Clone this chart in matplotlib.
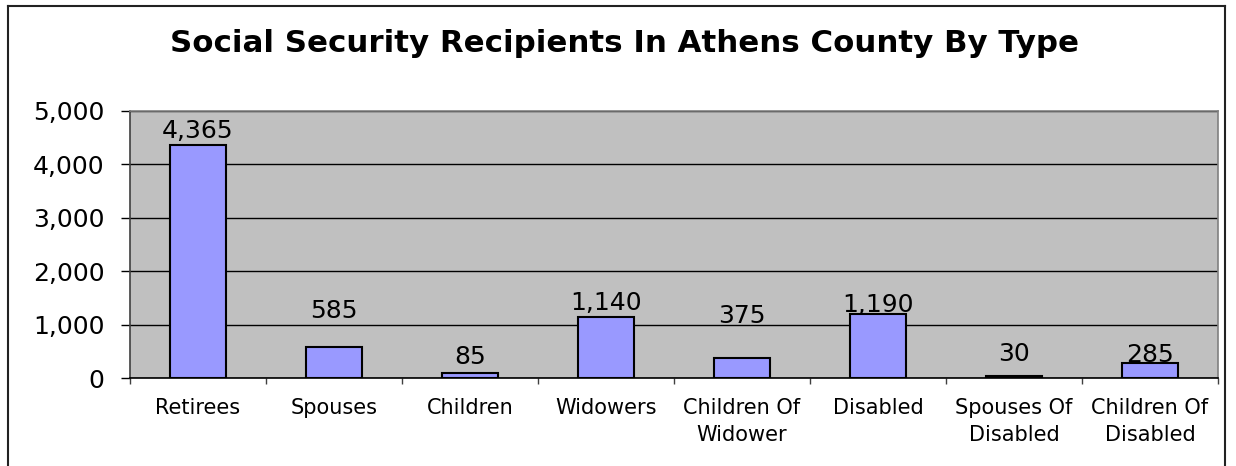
import matplotlib
matplotlib.use("Agg")
import matplotlib.pyplot as plt
from matplotlib.lines import Line2D
from matplotlib.ticker import FuncFormatter, FixedLocator

categories = ["Retirees", "Spouses", "Children", "Widowers", "Children Of\nWidower",
              "Disabled", "Spouses Of\nDisabled", "Children Of\nDisabled"]
values = [4365, 585, 85, 1140, 375, 1190, 30, 285]
y_ticks = [0, 1000, 2000, 3000, 4000, 5000]
title = "Social Security Recipients In Athens County By Type"

# label offsets above bar tops (points), mimicking original placement
label_offsets = [5, 21, 6.5, 5, 25, 2, 11, 0.7]

plt.rcParams['font.family'] = ['DejaVu Sans']

fig = plt.figure(figsize=(12.36, 4.66), dpi=100)
ax = fig.add_axes([130/1236, 1-378/466, (1218-130)/1236, (378-111)/466])
ax.set_facecolor("#C0C0C0")

x = list(range(len(categories)))
ax.bar(x, values, width=0.41, color="#9999FF", edgecolor="black", linewidth=1.5, zorder=3)

for xi, v, off in zip(x, values, label_offsets):
    ax.annotate(f"{v:,}", (xi, v), xytext=(0, off), textcoords="offset points",
                ha="center", va="baseline", fontsize=18, color="black", zorder=4)

ax.set_xlim(-0.5, len(categories) - 0.5)
ax.set_ylim(0, 5000)
ax.set_yticks(y_ticks)
ax.yaxis.set_major_formatter(FuncFormatter(lambda v, p: f"{int(v):,}"))
ax.tick_params(axis="y", direction="out", length=6.5, width=1, color="black",
               labelsize=18, pad=12)
ax.yaxis.grid(True, color="black", linewidth=1, zorder=1)
ax.set_axisbelow(True)

ax.set_xticks(x)
ax.set_xticklabels(categories, fontsize=15, linespacing=1.45)
ax.tick_params(axis="x", which="major", length=0, pad=14.5)
ax.xaxis.set_minor_locator(FixedLocator([i - 0.5 for i in range(len(categories) + 1)]))
ax.tick_params(axis="x", which="minor", direction="out", length=4.5, width=1, color="#404040")

for side in ["top", "right", "left"]:
    ax.spines[side].set_color("#808080")
    ax.spines[side].set_linewidth(1.2)
ax.spines["left"].set_color("#404040")
ax.spines["bottom"].set_color("black")
ax.spines["bottom"].set_linewidth(1.2)

fig.text(0.505, 1 - 52/466, title, ha="center", va="baseline",
         fontsize=22.2, fontweight="bold", color="black")

# outer chart frame (bottom cut off in original)
fl, fr, ft = 8/1236, 1225/1236, 1 - 6/466
frame_kw = dict(color="#222222", linewidth=1.5, transform=fig.transFigure)
fig.add_artist(Line2D([fl, fl], [0, ft], **frame_kw))
fig.add_artist(Line2D([fl, fr], [ft, ft], **frame_kw))
fig.add_artist(Line2D([fr, fr], [0, ft], **frame_kw))

fig.savefig("out.png", dpi=100)
